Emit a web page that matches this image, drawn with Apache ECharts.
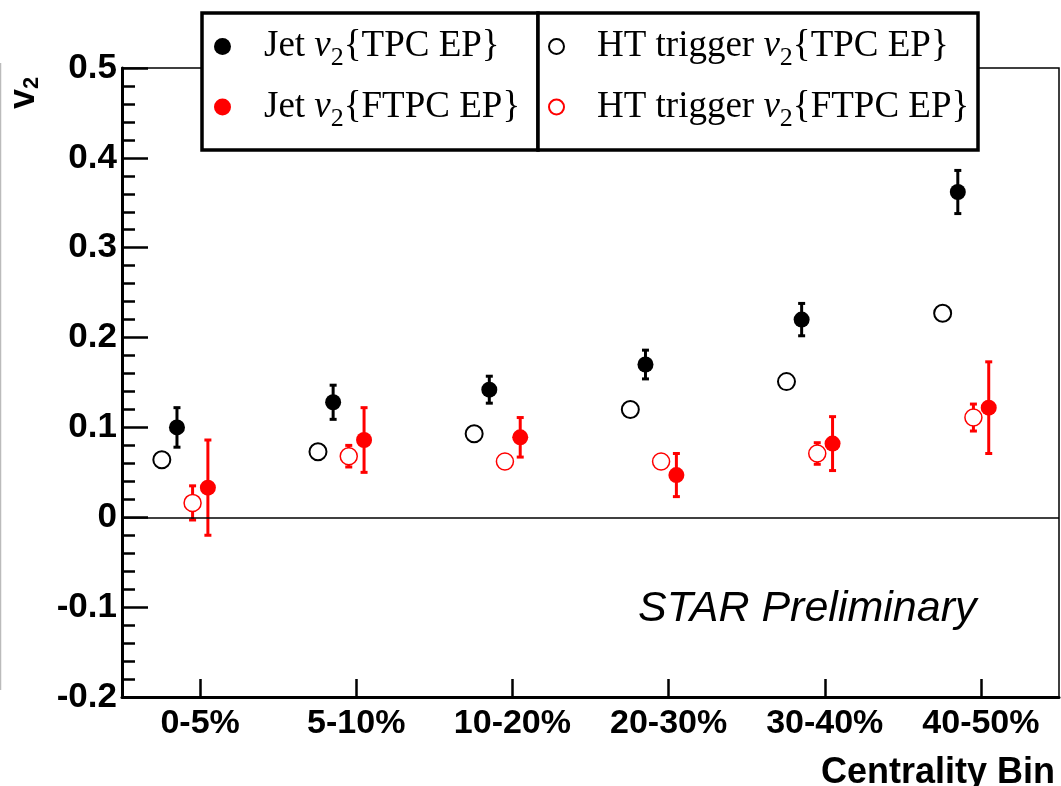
<!DOCTYPE html>
<html>
<head>
<meta charset="utf-8">
<script src="https://cdn.jsdelivr.net/npm/echarts@6/dist/echarts.min.js"></script>
<style>
  html, body { margin: 0; padding: 0; background: #fff; }
  #chart { width: 1061px; height: 786px; }
</style>
</head>
<body>
<div id="chart"></div>
<script>
const categories = ['0-5%', '5-10%', '10-20%', '20-30%', '30-40%', '40-50%'];

const jetTpc = [0.100, 0.128, 0.142, 0.170, 0.220, 0.362];
const jetTpcErr = [0.022, 0.019, 0.015, 0.016, 0.018, 0.024];
const htTpc = [0.064, 0.073, 0.093, 0.120, 0.151, 0.227];
const htTpcErr = [0.004, 0.004, 0.004, 0.004, 0.004, 0.005];
const jetFtpc = [0.033, 0.086, 0.089, 0.047, 0.082, 0.122];
const jetFtpcErr = [0.053, 0.036, 0.022, 0.024, 0.030, 0.051];
const htFtpc = [0.016, 0.068, 0.062, 0.062, 0.071, 0.111];
const htFtpcErr = [0.019, 0.012, 0.006, 0.006, 0.012, 0.015];

const chart = echarts.init(document.getElementById('chart'));

// small horizontal shift of each set inside a bin
const shift = { jetTpc: -0.148, htTpc: -0.245, jetFtpc: 0.05, htFtpc: -0.048 };

const pts = (vals, dx) => vals.map((v, i) => [i + dx, v]);
const errs = (vals, e, dx) => vals.map((v, i) => [i + dx, v - e[i], v + e[i]]);

function errorBars(name, data, color) {
    return {
        name: name + ' err',
        type: 'custom',
        xAxisIndex: 1,
        z: 2,
        silent: true,
        data: data,
        renderItem: (params, api) => {
            const lo = api.coord([api.value(0), api.value(1)]);
            const hi = api.coord([api.value(0), api.value(2)]);
            const x = lo[0], cw = 3.5;
            const st = { stroke: color, lineWidth: 3 };
            return {
                type: 'group',
                children: [
                    { type: 'line', shape: { x1: x, y1: lo[1], x2: x, y2: hi[1] }, style: st },
                    { type: 'line', shape: { x1: x - cw, y1: hi[1], x2: x + cw, y2: hi[1] }, style: st },
                    { type: 'line', shape: { x1: x - cw, y1: lo[1], x2: x + cw, y2: lo[1] }, style: st }
                ]
            };
        }
    };
}

const legendText = { fontFamily: 'Liberation Serif', fontSize: 37, color: '#000', padding: [0, 0, 0, 28] };
const legendRich = {
    v: { fontFamily: 'Liberation Serif', fontStyle: 'italic', fontSize: 37, color: '#000' },
    s: { fontFamily: 'Liberation Serif', fontSize: 26, color: '#000', padding: [24, 0, 0, 0] }
};
const legendFmt = name => {
    const parts = name.split(' v2');
    return parts[0] + ' {v|v}{s|2}' + parts[1];
};

const axisFont = { color: '#000', fontFamily: 'Liberation Sans', fontWeight: 'bold' };

chart.setOption({
    animation: false,
    backgroundColor: '#fff',
    grid: { left: 122, right: 2, top: 68, bottom: 89, show: true, borderColor: '#000', borderWidth: 1.5 },
    legend: [
        {
            data: ['Jet v2{TPC EP}', 'Jet v2{FTPC EP}'],
            orient: 'vertical', left: 214, top: 28, itemGap: 17, padding: 0,
            itemWidth: 17, itemHeight: 17,
            textStyle: Object.assign({ rich: legendRich }, legendText),
            formatter: legendFmt
        },
        {
            data: ['HT trigger v2{TPC EP}', 'HT trigger v2{FTPC EP}'],
            orient: 'vertical', left: 548, top: 28, itemGap: 17, padding: 0,
            itemWidth: 15, itemHeight: 15,
            textStyle: Object.assign({ rich: legendRich }, legendText),
            formatter: legendFmt
        }
    ],
    xAxis: [
        {
            type: 'category',
            data: categories,
            boundaryGap: true,
            axisLine: { onZero: false, lineStyle: { color: '#000', width: 3 } },
            axisTick: { show: true, interval: 0, alignWithLabel: true, inside: true, length: 18, lineStyle: { color: '#000', width: 2.5 } },
            axisLabel: Object.assign({ fontSize: 34, margin: 10, interval: 0 }, axisFont),
            splitLine: { show: false }
        },
        { type: 'value', min: -0.5, max: 5.5, show: false }
    ],
    yAxis: {
        type: 'value',
        min: -0.2, max: 0.5, interval: 0.1,
        axisLine: { show: true, onZero: false, lineStyle: { color: '#000', width: 3 } },
        axisTick: { show: true, inside: true, length: 26, lineStyle: { color: '#000', width: 2.5 } },
        minorTick: { show: true, splitNumber: 5, length: 13, lineStyle: { color: '#000', width: 2.5 } },
        splitLine: { show: false },
        axisLabel: Object.assign({
            fontSize: 35, margin: 5,
            formatter: v => String(Math.round(v * 10) / 10)
        }, axisFont)
    },
    graphic: [
        { type: 'line', shape: { x1: 0.5, y1: 63, x2: 0.5, y2: 690 }, style: { stroke: '#bbb', lineWidth: 1.5 } },
        { type: 'rect', shape: { x: 202, y: 13, width: 336, height: 137 }, style: { fill: '#fff', stroke: '#000', lineWidth: 3.5 }, z: 0 },
        { type: 'rect', shape: { x: 538, y: 13, width: 440, height: 137 }, style: { fill: '#fff', stroke: '#000', lineWidth: 3.5 }, z: 0 },
        {
            type: 'text', x: 5, y: 109, rotation: Math.PI / 2,
            style: {
                text: '{v|v}{s|2}',
                rich: {
                    v: { fontFamily: 'Liberation Sans', fontWeight: 'bold', fontSize: 36, fill: '#000' },
                    s: { fontFamily: 'Liberation Sans', fontWeight: 'bold', fontSize: 22, fill: '#000', padding: [16, 0, 0, 0] }
                }
            }
        },
        {
            type: 'text', left: 638, top: 588,
            style: { text: 'STAR Preliminary', fontFamily: 'Liberation Sans', fontStyle: 'italic', fontSize: 43, fill: '#000' }
        },
        {
            type: 'text', right: 6, top: 755,
            style: { text: 'Centrality Bin', fontFamily: 'Liberation Sans', fontWeight: 'bold', fontSize: 36, fill: '#000' }
        }
    ],
    series: [
        errorBars('jetTpc', errs(jetTpc, jetTpcErr, shift.jetTpc), '#000'),
        errorBars('htTpc', errs(htTpc, htTpcErr, shift.htTpc), '#000'),
        errorBars('jetFtpc', errs(jetFtpc, jetFtpcErr, shift.jetFtpc), '#ff0000'),
        errorBars('htFtpc', errs(htFtpc, htFtpcErr, shift.htFtpc), '#ff0000'),
        {
            name: 'Jet v2{TPC EP}', type: 'scatter', xAxisIndex: 1, z: 5,
            symbol: 'circle', symbolSize: 16,
            itemStyle: { color: '#000', opacity: 1 },
            data: pts(jetTpc, shift.jetTpc),
            markLine: {
                silent: true, symbol: 'none', label: { show: false },
                lineStyle: { color: '#000', width: 1.5, type: 'solid' },
                data: [{ yAxis: 0 }]
            }
        },
        {
            name: 'HT trigger v2{TPC EP}', type: 'scatter', xAxisIndex: 1, z: 5,
            symbol: 'circle', symbolSize: 17,
            itemStyle: { color: '#fff', borderColor: '#000', borderWidth: 2, opacity: 1 },
            data: pts(htTpc, shift.htTpc)
        },
        {
            name: 'Jet v2{FTPC EP}', type: 'scatter', xAxisIndex: 1, z: 5,
            symbol: 'circle', symbolSize: 16,
            itemStyle: { color: '#ff0000', opacity: 1 },
            data: pts(jetFtpc, shift.jetFtpc)
        },
        {
            name: 'HT trigger v2{FTPC EP}', type: 'scatter', xAxisIndex: 1, z: 4,
            symbol: 'circle', symbolSize: 17,
            itemStyle: { color: '#fff', borderColor: '#ff0000', borderWidth: 1.5, opacity: 1 },
            data: pts(htFtpc, shift.htFtpc)
        }
    ]
});
</script>
</body>
</html>
